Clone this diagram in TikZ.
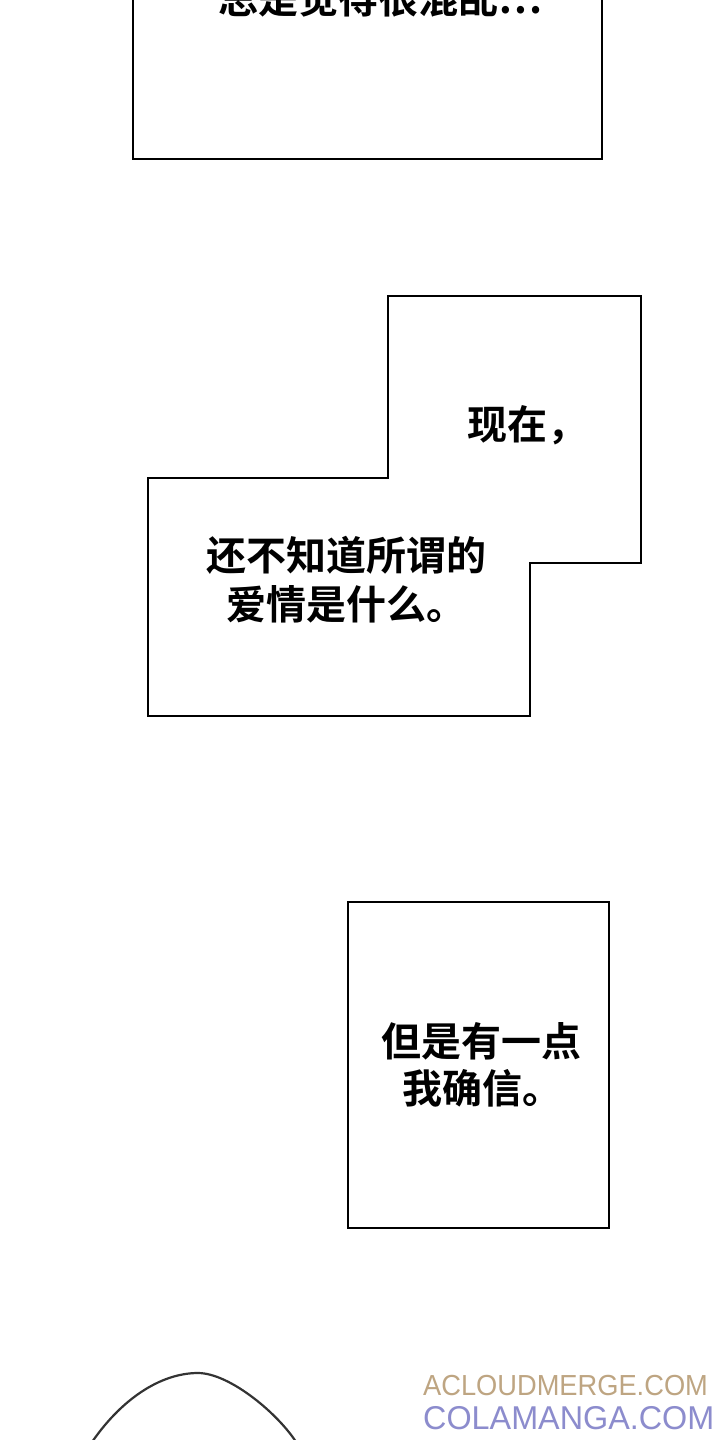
\documentclass[tikz,border=0pt]{standalone}
\usepackage{fontspec}
\newfontfamily\cjk{Noto Sans CJK SC Bold}
\newfontfamily\wm{Liberation Sans}
\definecolor{wmA}{RGB}{190,165,130}
\definecolor{wmB}{RGB}{140,140,205}
\begin{document}
\begin{tikzpicture}[x=1pt,y=-1pt,
  box/.style={draw=black,line width=1.5pt},
  txt/.style={font=\cjk\fontsize{40}{46}\selectfont,anchor=west,inner sep=0}]
\useasboundingbox (0,0) rectangle (720,1440);
\begin{scope}
\clip (0,0) rectangle (720,1440);
\draw[box] (133,-5) -- (133,159) -- (602,159) -- (602,-5);
\node[txt] (t0) at (218,-2) {总是觉得很混乱…};
\draw[box] (388,296) -- (641,296) -- (641,563) -- (530,563) -- (530,716) -- (148,716) -- (148,478) -- (388,478) -- cycle;
\node[txt] (t1) at (467,425) {现在，};
\node[txt] (t2) at (206,555) {还不知道所谓的};
\node[txt] (t3) at (226,604) {爱情是什么。};
\draw[box] (348,902) rectangle (609,1228);
\node[txt] (t4) at (381,1041) {但是有一点};
\node[txt] (t5) at (402,1088) {我确信。};
\draw[line width=2.2pt,color=black!80] (90,1445) .. controls (120,1400) and (160,1373) .. (198,1373) .. controls (230,1373) and (280,1415) .. (298,1445);
\node[font=\wm\fontsize{29}{30}\selectfont,text=wmA,anchor=west,inner sep=0,xscale=0.94] (w1) at (423,1385) {ACLOUDMERGE.COM};
\node[font=\wm\fontsize{33}{34}\selectfont,text=wmB,anchor=west,inner sep=0,xscale=0.98] (w2) at (423,1418) {COLAMANGA.COM};
\end{scope}
\end{tikzpicture}
\end{document}
